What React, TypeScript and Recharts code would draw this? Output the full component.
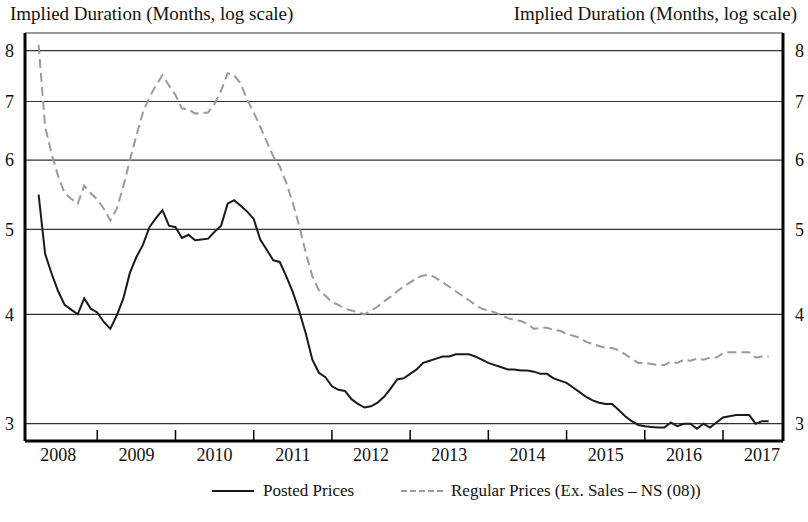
import React from 'react';
import { LineChart, Line, XAxis, YAxis, CartesianGrid } from 'recharts';

// Monthly observations, April 2008 – August 2017
const START_YEAR = 2008;
const START_MONTH = 4;

const postedPrices = [
  5.48, 4.69, 4.45, 4.25, 4.10, 4.05, 4.00, 4.17, 4.06, 4.02,
  3.92, 3.85, 3.99, 4.17, 4.46, 4.65, 4.80, 5.03, 5.15, 5.26,
  5.05, 5.03, 4.89, 4.93, 4.86, 4.87, 4.88, 4.97, 5.05, 5.35,
  5.40, 5.32, 5.24, 5.14, 4.87, 4.74, 4.61, 4.59, 4.42, 4.24,
  4.03, 3.80, 3.55, 3.43, 3.39, 3.31, 3.28, 3.27, 3.20, 3.16,
  3.13, 3.14, 3.17, 3.22, 3.29, 3.37, 3.38, 3.42, 3.46, 3.52,
  3.54, 3.56, 3.58, 3.58, 3.60, 3.60, 3.60, 3.58, 3.55, 3.52,
  3.50, 3.48, 3.46, 3.46, 3.45, 3.45, 3.44, 3.42, 3.42, 3.38,
  3.36, 3.34, 3.30, 3.26, 3.22, 3.19, 3.17, 3.16, 3.16, 3.11,
  3.06, 3.02, 2.99, 2.98, 2.975, 2.97, 2.97, 3.01, 2.98, 3.00,
  3.00, 2.96, 3.00, 2.97, 3.01, 3.05, 3.06, 3.07, 3.07, 3.07,
  3.00, 3.02, 3.02,
];

const regularPrices = [
  8.12, 6.55, 6.10, 5.75, 5.50, 5.42, 5.35, 5.61, 5.50, 5.41,
  5.28, 5.12, 5.28, 5.60, 6.00, 6.40, 6.80, 7.08, 7.30, 7.50,
  7.30, 7.12, 6.87, 6.86, 6.78, 6.79, 6.80, 6.96, 7.20, 7.54,
  7.50, 7.34, 7.03, 6.80, 6.55, 6.30, 6.06, 5.90, 5.65, 5.36,
  5.04, 4.70, 4.42, 4.26, 4.20, 4.13, 4.10, 4.06, 4.04, 4.02,
  4.00, 4.04, 4.08, 4.14, 4.19, 4.25, 4.30, 4.35, 4.40, 4.43,
  4.44, 4.40, 4.35, 4.30, 4.25, 4.20, 4.15, 4.10, 4.06, 4.04,
  4.02, 3.99, 3.96, 3.94, 3.93, 3.90, 3.85, 3.86, 3.86, 3.84,
  3.83, 3.80, 3.78, 3.76, 3.72, 3.70, 3.68, 3.66, 3.66, 3.64,
  3.60, 3.56, 3.52, 3.52, 3.51, 3.50, 3.50, 3.53, 3.52, 3.55,
  3.54, 3.56, 3.55, 3.57, 3.57, 3.61, 3.62, 3.62, 3.62, 3.62,
  3.57, 3.58, 3.58,
];

const yTicks = [3, 4, 5, 6, 7, 8];
const yearBoundaries = [2009, 2010, 2011, 2012, 2013, 2014, 2015, 2016, 2017];
const yearLabels = ['2008', '2009', '2010', '2011', '2012', '2013', '2014', '2015', '2016', '2017'];

const axisTitle = 'Implied Duration (Months, log scale)';
const seriesNames = ['Posted Prices', 'Regular Prices (Ex. Sales \u2013 NS (08))'];

const data = postedPrices.map((p, i) => ({
  t: START_YEAR + (START_MONTH - 1 + i) / 12,
  posted: p,
  regular: regularPrices[i],
}));

const labelTicks = yearLabels.map((y) => Number(y) + 0.5);
const xTicks = [...yearBoundaries, ...labelTicks].sort((a, b) => a - b);

const FONT = '"Liberation Serif", "Times New Roman", serif';
const X_DOMAIN: [number, number] = [2008.076, 2017.767];
const Y_DOMAIN: [number, number] = [2.8666, 8.381];

const XTick = (props: any) => {
  const { x, y, payload } = props;
  const v = payload.value as number;
  if (Number.isInteger(v)) {
    return <line x1={x} x2={x} y1={y} y2={y - 11} stroke="#000" strokeWidth={1.5} />;
  }
  return (
    <text x={x} y={y + 20} textAnchor="middle" fontFamily={FONT} fontSize={18} fill="#111">
      {String(Math.floor(v))}
    </text>
  );
};

export default function App() {
  return (
    <div style={{ position: 'absolute', left: 0, top: 0, width: 808, height: 522, background: '#fff', fontFamily: FONT }}>
      <div style={{ position: 'absolute', left: 10, top: 4, fontSize: 19, lineHeight: '19px', color: '#111', whiteSpace: 'nowrap' }}>
        {axisTitle}
      </div>
      <div style={{ position: 'absolute', right: 11, top: 4, fontSize: 19, lineHeight: '19px', color: '#111', whiteSpace: 'nowrap' }}>
        {axisTitle}
      </div>
      <LineChart width={808} height={522} data={data} margin={{ top: 33, right: 0, bottom: 51, left: 0 }}>
        <CartesianGrid horizontal vertical={false} yAxisId="l" stroke="#333" strokeWidth={1.2} />
        <XAxis
          xAxisId="x"
          dataKey="t"
          type="number"
          domain={X_DOMAIN}
          allowDataOverflow
          ticks={xTicks}
          interval={0}
          tickSize={0}
          tickMargin={0}
          tickLine={false}
          tick={<XTick />}
          axisLine={{ stroke: '#000', strokeWidth: 3 }}
          height={30}
        />
        <XAxis
          xAxisId="top"
          orientation="top"
          dataKey="t"
          type="number"
          domain={X_DOMAIN}
          allowDataOverflow
          tick={false}
          tickLine={false}
          axisLine={{ stroke: '#000', strokeWidth: 2.5 }}
          height={0}
        />
        <YAxis
          yAxisId="l"
          scale="log"
          type="number"
          domain={Y_DOMAIN}
          allowDataOverflow
          ticks={yTicks}
          interval={0}
          width={25}
          tickSize={0}
          tickMargin={11}
          tickLine={false}
          axisLine={{ stroke: '#000', strokeWidth: 3 }}
          tick={{ fill: '#111', fontSize: 18, fontFamily: FONT }}
        />
        <YAxis
          yAxisId="r"
          orientation="right"
          scale="log"
          type="number"
          domain={Y_DOMAIN}
          allowDataOverflow
          ticks={yTicks}
          interval={0}
          width={25}
          tickSize={0}
          tickMargin={12}
          tickLine={false}
          axisLine={{ stroke: '#000', strokeWidth: 3 }}
          tick={{ fill: '#111', fontSize: 18, fontFamily: FONT }}
        />
        <Line
          xAxisId="x"
          yAxisId="l"
          type="linear"
          dataKey="regular"
          stroke="#9a9a9a"
          strokeWidth={2}
          strokeDasharray="9 5"
          dot={false}
          isAnimationActive={false}
        />
        <Line
          xAxisId="x"
          yAxisId="l"
          type="linear"
          dataKey="posted"
          stroke="#1a1a1a"
          strokeWidth={2}
          dot={false}
          isAnimationActive={false}
        />
      </LineChart>
      <div style={{ position: 'absolute', left: 0, top: 480, width: 808, height: 22, fontSize: 17, color: '#111' }}>
        <svg width={44} height={6} style={{ position: 'absolute', left: 212, top: 8 }}>
          <line x1={0} x2={42} y1={3} y2={3} stroke="#1a1a1a" strokeWidth={2} />
        </svg>
        <span style={{ position: 'absolute', left: 263, top: 0, lineHeight: '22px', whiteSpace: 'nowrap' }}>{seriesNames[0]}</span>
        <svg width={46} height={6} style={{ position: 'absolute', left: 401, top: 8 }}>
          <line x1={0} x2={44} y1={3} y2={3} stroke="#9a9a9a" strokeWidth={2} strokeDasharray="6 3" />
        </svg>
        <span style={{ position: 'absolute', left: 451, top: 0, lineHeight: '22px', whiteSpace: 'nowrap' }}>{seriesNames[1]}</span>
      </div>
    </div>
  );
}
